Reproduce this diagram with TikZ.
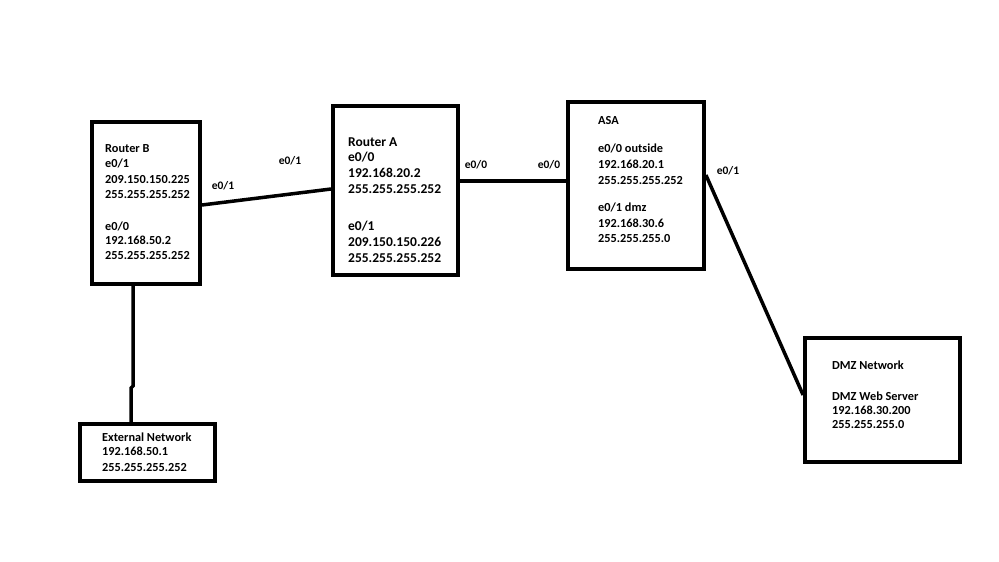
\documentclass[tikz,border=0pt]{standalone}
\usepackage{fontspec}
\setmainfont{Carlito}
\begin{document}
\begin{tikzpicture}[x=1pt,y=-1pt,
  box/.style={draw=black,line width=3.8pt,fill=white,inner sep=0pt},
  wire/.style={draw=black,line width=3.5pt},
  txt/.style={anchor=base west,inner sep=0pt,font=\bfseries\fontsize{12.3}{14}\selectfont},
  txtA/.style={anchor=base west,inner sep=0pt,font=\bfseries\fontsize{13.5}{15}\selectfont},
  lbl/.style={anchor=center,inner sep=0pt,font=\bfseries\fontsize{11.5}{13}\selectfont}]
\useasboundingbox[fill=white] (0,0) rectangle (999,562);

% boxes
\node[box,minimum width=108pt,minimum height=162pt] (rb) at (146,203) {};
\node[box,minimum width=125pt,minimum height=169pt] (ra) at (395.5,190.5) {};
\node[box,minimum width=136pt,minimum height=167pt] (asa) at (636,185.5) {};
\node[box,minimum width=135pt,minimum height=57pt] (ext) at (147.5,452.5) {};
\node[box,minimum width=155pt,minimum height=124pt] (dmz) at (882.5,400) {};

% connectors
\coordinate (jog1) at (133,386);
\coordinate (jog2) at (131,388);
\draw[wire] (rb.east |- 0,205) -- (ra.west |- 0,189);
\draw[wire] (ra.east |- 0,181) -- (asa.west |- 0,181);
\draw[wire] (asa.east |- 0,175) -- (dmz.west |- 0,395);
\draw[wire] (rb.south -| jog1) -- (jog1) -- (jog2) -- (ext.north -| jog2);

% Router B text
\node[txt] (rb1) at (105,152) {Router B};
\node[txt] (rb2) at (105,167) {e0/1};
\node[txt] (rb3) at (105,183) {209.150.150.225};
\node[txt] (rb4) at (105,198) {255.255.255.252};
\node[txt] (rb5) at (105,230) {e0/0};
\node[txt] (rb6) at (105,244) {192.168.50.2};
\node[txt] (rb7) at (105,259) {255.255.255.252};

% Router A text
\node[txtA] (ra1) at (348,146) {Router A};
\node[txtA] (ra2) at (348,161) {e0/0};
\node[txtA] (ra3) at (348,177) {192.168.20.2};
\node[txtA] (ra4) at (348,193) {255.255.255.252};
\node[txtA] (ra5) at (348,230) {e0/1};
\node[txtA] (ra6) at (348,246) {209.150.150.226};
\node[txtA] (ra7) at (348,262) {255.255.255.252};

% ASA text
\node[txt] (asa1) at (598,124) {ASA};
\node[txt] (asa2) at (598,152) {e0/0 outside};
\node[txt] (asa3) at (598,168) {192.168.20.1};
\node[txt] (asa4) at (598,184) {255.255.255.252};
\node[txt] (asa5) at (598,211) {e0/1 dmz};
\node[txt] (asa6) at (598,227) {192.168.30.6};
\node[txt] (asa7) at (598,242) {255.255.255.0};

% External network text
\node[txt] (ext1) at (102,441) {External Network};
\node[txt] (ext2) at (102,455) {192.168.50.1};
\node[txt] (ext3) at (102,471) {255.255.255.252};

% DMZ text
\node[txt] (dmz1) at (832,369) {DMZ Network};
\node[txt] (dmz2) at (832,400) {DMZ Web Server};
\node[txt] (dmz3) at (832,414) {192.168.30.200};
\node[txt] (dmz4) at (832,428) {255.255.255.0};

% interface labels
\node[lbl] (l1) at (223,186) {e0/1};
\node[lbl] (l2) at (290,161) {e0/1};
\node[lbl] (l3) at (476,165) {e0/0};
\node[lbl] (l4) at (549,165) {e0/0};
\node[lbl] (l5) at (728,171) {e0/1};
\end{tikzpicture}
\end{document}
